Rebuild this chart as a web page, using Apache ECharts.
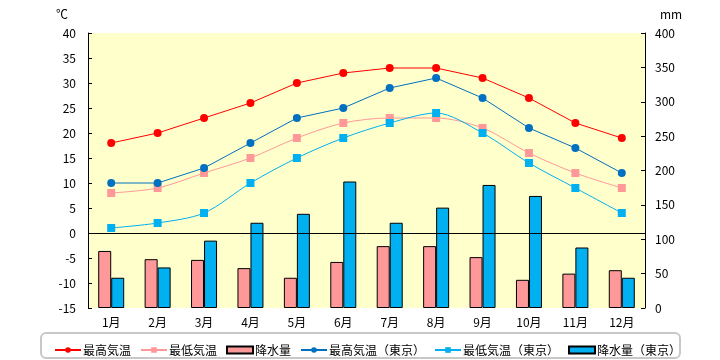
<!DOCTYPE html>
<html><head><meta charset="utf-8">
<script src="https://cdn.jsdelivr.net/npm/echarts@6/dist/echarts.min.js"></script>
<style>html,body{margin:0;padding:0;background:#fff}#c{width:720px;height:360px}</style>
</head><body><div id="c"></div>
<script>
const months = ['1月','2月','3月','4月','5月','6月','7月','8月','9月','10月','11月','12月'];
const maxTemp = [18, 20, 23, 26, 30, 32, 33, 33, 31, 27, 22, 19];
const minTemp = [8, 9, 12, 15, 19, 22, 23, 23, 21, 16, 12, 9];
const precip = [83, 71, 70, 58, 44, 67, 90, 90, 74, 41, 50, 55];
const maxTempTokyo = [10, 10, 13, 18, 23, 25, 29, 31, 27, 21, 17, 12];
const minTempTokyo = [1, 2, 4, 10, 15, 19, 22, 24, 20, 14, 9, 4];
const precipTokyo = [44, 59, 98, 124, 137, 184, 124, 146, 179, 163, 88, 44];
const names = ['最高気温','最低気温','降水量','最高気温（東京）','最低気温（東京）','降水量（東京）'];

const font = "'Noto Sans CJK JP', sans-serif";
const chart = echarts.init(document.getElementById('c'), null, {renderer:'canvas'});
chart.setOption({
  animation: false,
  textStyle: {fontFamily: font, color: '#000'},
  grid: {left: 88, right: 75, top: 33, bottom: 52, show: true, backgroundColor: '#FFFFCC', borderWidth: 0},
  graphic: [
    {type: 'text', left: 56, top: 8, style: {text: '℃', font: '12px ' + font, fill: '#000'}},
    {type: 'text', left: 660, top: 8, style: {text: 'mm', font: '12px ' + font, fill: '#000'}},
    {type: 'rect', shape: {x: 41, y: 333, width: 639, height: 25, r: 5}, style: {fill: 'none', stroke: '#c8c8c8', lineWidth: 2}, z: -1}
  ],
  legend: {
    data: [
      {name: names[0]}, {name: names[1]}, {name: names[2], icon: 'rect'},
      {name: names[3]}, {name: names[4]}, {name: names[5], icon: 'rect'}
    ],
    left: 49, top: 339, itemWidth: 26, itemHeight: 7, itemGap: 9,
    textStyle: {fontFamily: font, fontSize: 12, color: '#000', padding: [0,0,0,-3]},
    selectedMode: false
  },
  xAxis: {
    type: 'category', data: months,
    axisLine: {show: false}, axisTick: {show: false},
    axisLabel: {fontFamily: font, fontSize: 12, color: '#000', margin: 8}
  },
  yAxis: [
    {type: 'value', min: -15, max: 40, interval: 5, splitLine: {show: false},
     axisLine: {show: true, lineStyle: {color: '#000'}},
     axisTick: {show: true, inside: true, length: 4, lineStyle: {color: '#000'}},
     axisLabel: {fontFamily: font, fontSize: 12, color: '#000', margin: 12}},
    {type: 'value', min: 0, max: 400, interval: 50, splitLine: {show: false},
     axisLine: {show: true, lineStyle: {color: '#000'}},
     axisTick: {show: true, inside: true, length: 4, lineStyle: {color: '#000'}},
     axisLabel: {fontFamily: font, fontSize: 12, color: '#000', margin: 10}}
  ],
  series: [
    {name: names[2], type: 'bar', yAxisIndex: 1, data: precip, barWidth: 13, barGap: '0%',
     itemStyle: {color: '#FF9999', borderColor: '#000', borderWidth: 1}, z: 1},
    {name: names[5], type: 'bar', yAxisIndex: 1, data: precipTokyo, barWidth: 13, barGap: '0%',
     itemStyle: {color: '#00B0F0', borderColor: '#000', borderWidth: 1}, z: 1},
    {name: names[0], type: 'line', data: maxTemp, symbol: 'circle', symbolSize: 8,
     lineStyle: {color: '#FF0000', width: 1}, itemStyle: {color: '#FF0000'}, z: 5,
     markLine: {silent: true, symbol: 'none', label: {show: false}, lineStyle: {color: '#000', width: 1, type: 'solid'}, data: [{yAxis: 0}], z: 3}},
    {name: names[1], type: 'line', data: minTemp, symbol: 'rect', symbolSize: 8, smooth: 0.3,
     lineStyle: {color: '#FF9999', width: 1}, itemStyle: {color: '#FF9999'}, z: 5},
    {name: names[3], type: 'line', data: maxTempTokyo, symbol: 'circle', symbolSize: 8,
     lineStyle: {color: '#0070C0', width: 1}, itemStyle: {color: '#0070C0'}, z: 5},
    {name: names[4], type: 'line', data: minTempTokyo, symbol: 'rect', symbolSize: 8, smooth: 0.3,
     lineStyle: {color: '#00B0F0', width: 1}, itemStyle: {color: '#00B0F0'}, z: 5}
  ]
});
</script></body></html>
